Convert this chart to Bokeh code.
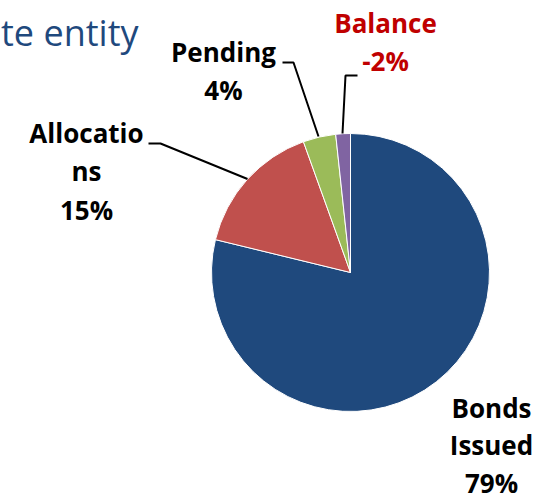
import math
from bokeh.plotting import figure
from bokeh.models import ColumnDataSource, Range1d
from bokeh.core.properties import value
from bokeh.embed import file_html
from bokeh.resources import INLINE

# ---- data ----
categories = ["Bonds Issued", "Allocations", "Pending", "Balance"]
shares = [78.8, 15.7, 3.8, 1.7]          # slice sizes (%)
pct_labels = ["79%", "15%", "4%", "-2%"]   # printed labels
label_lines = [["Bonds", "Issued", "79%"],
               ["Allocatio", "ns", "15%"],
               ["Pending", "4%"],
               ["Balance", "-2%"]]
colors = ["#1F497D", "#C0504D", "#9BBB59", "#8064A2"]
title_text = "te entity"

W, H = 545, 500
def Y(py):
    return H - py

p = figure(width=W, height=H, output_backend="svg", toolbar_location=None,
           x_range=Range1d(0, W), y_range=Range1d(0, H), min_border=0)
p.axis.visible = False
p.grid.visible = False
p.outline_line_color = None
p.background_fill_color = "white"
p.border_fill_color = "white"

# ---- pie ----
cx, cy, r = 350, Y(272), 139
total = sum(shares)
starts, ends = [], []
acc = 0.0
for v in shares:
    a0 = math.pi / 2 - 2 * math.pi * (acc + v) / total
    a1 = math.pi / 2 - 2 * math.pi * acc / total
    starts.append(a0)
    ends.append(a1)
    acc += v
src = ColumnDataSource(dict(start=starts, end=ends, color=colors, cat=categories))
p.wedge(x=cx, y=cy, radius=r, start_angle="start", end_angle="end",
        fill_color="color", line_color="white", line_width=1, source=src)

# ---- leader lines ----
leaders = [
    ([148, 160, 247], [143, 143, 178.5]),   # Allocations
    ([282, 293, 318], [62, 62, 136]),       # Pending
    ([357, 345, 342], [75, 75, 133]),       # Balance
]
for xs, ys in leaders:
    p.line(xs, [Y(v) for v in ys], line_color="black", line_width=2)

# ---- labels ----
shift = 10
label_pos = [(491, 417), (86, 142), (223, 61), (385, 32)]
label_gap = [37.5, 38.5, 38.5, 38.5]
label_colors = ["black", "black", "black", "#C00000"]
tx, ty, tt, tc = [], [], [], []
for (lx, ly), gap, lines, col in zip(label_pos, label_gap, label_lines, label_colors):
    for i, s in enumerate(lines):
        tx.append(lx)
        ty.append(Y(ly + gap * i - shift))
        tt.append(s)
        tc.append(col)
p.text(x=tx, y=ty, text=tt, text_color=tc, text_align="center",
       text_baseline="alphabetic", text_font=value("Open Sans"),
       text_font_style="bold", text_font_size="26px")

# ---- cut-off title ----
p.text(x=[138], y=[Y(42 - shift)], text=[title_text], text_color="#1F497D",
       text_align="right", text_baseline="alphabetic",
       text_font=value("Open Sans"), text_font_size="36px")

open("out.html", "w").write(file_html(p, INLINE))
